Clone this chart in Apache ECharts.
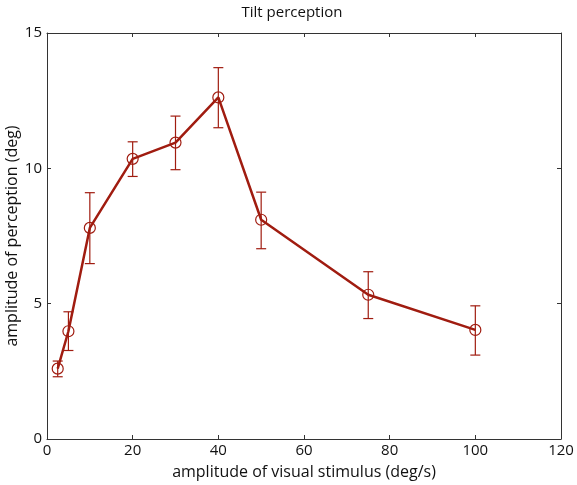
<!DOCTYPE html>
<html><head><meta charset="utf-8">
<script src="https://cdn.jsdelivr.net/npm/echarts@6/dist/echarts.min.js"></script>
<style>html,body{margin:0;padding:0;background:#fff}#c{width:577px;height:485px}</style>
</head><body><div id="c"></div>
<script>
const stimulus = [2.5, 5, 10, 20, 30, 40, 50, 75, 100];
const perception = [2.6, 3.98, 7.8, 10.35, 10.95, 12.62, 8.1, 5.33, 4.03];
const errLow = [2.3, 3.27, 6.48, 9.7, 9.95, 11.5, 7.03, 4.45, 3.1];
const errHigh = [2.88, 4.7, 9.1, 10.98, 11.93, 13.72, 9.12, 6.18, 4.92];
const xTicks = [0, 20, 40, 60, 80, 100, 120];
const yTicks = [0, 5, 10, 15];

const red = '#a01c10';
const font = 'Open Sans';
const chart = echarts.init(document.getElementById('c'), null, {renderer: 'canvas'});
const axisCommon = {
  axisLine: {show: true, onZero: false, lineStyle: {color: '#333', width: 1}},
  axisTick: {show: true, inside: true, length: 4, lineStyle: {color: '#333'}},
  splitLine: {show: false}
};
chart.setOption({
  animation: false,
  title: {text: 'Tilt perception', left: 287, top: 0, textAlign: 'center',
    textStyle: {fontFamily: font, fontSize: 15, fontWeight: 'normal', color: '#111'}},
  grid: {left: 47, right: 16, top: 33, bottom: 46, containLabel: false, outerBoundsMode: 'none'},
  xAxis: [
    Object.assign({type: 'value', min: 0, max: 120, interval: 20, position: 'bottom',
      name: 'amplitude of visual stimulus (deg/s)', nameLocation: 'middle', nameGap: 25,
      nameMoveOverlap: false,
      nameTextStyle: {fontFamily: font, fontSize: 16, color: '#111'},
      axisLabel: {fontFamily: font, fontSize: 15, color: '#111', margin: 4,
        formatter: v => xTicks.includes(v) ? String(v) : ''}}, axisCommon),
    Object.assign({type: 'value', min: 0, max: 120, interval: 20, position: 'top',
      axisLabel: {show: false}}, axisCommon)
  ],
  yAxis: [
    Object.assign({type: 'value', min: 0, max: 15, interval: 5, position: 'left',
      name: 'amplitude of perception (deg)', nameLocation: 'middle', nameGap: 27,
      nameMoveOverlap: false,
      nameTextStyle: {fontFamily: font, fontSize: 16, color: '#111'},
      axisLabel: {fontFamily: font, fontSize: 15, color: '#111', margin: 5,
        formatter: v => yTicks.includes(v) ? String(v) : ''}}, axisCommon),
    Object.assign({type: 'value', min: 0, max: 15, interval: 5, position: 'right',
      axisLabel: {show: false}}, axisCommon)
  ],
  series: [
    {
      type: 'line',
      data: stimulus.map((x, i) => [x, perception[i]]),
      lineStyle: {color: red, width: 2.5},
      itemStyle: {color: 'rgba(0,0,0,0)', borderColor: red, borderWidth: 1.2},
      symbol: 'circle', symbolSize: 11, z: 3
    },
    {
      type: 'custom',
      data: stimulus.map((x, i) => [x, errLow[i], errHigh[i]]),
      renderItem: function (params, api) {
        const x = api.value(0);
        const lo = api.coord([x, api.value(1)]);
        const hi = api.coord([x, api.value(2)]);
        const hw = 5;
        const st = {stroke: red, lineWidth: 1.2};
        return {type: 'group', children: [
          {type: 'line', shape: {x1: lo[0], y1: lo[1], x2: hi[0], y2: hi[1]}, style: st},
          {type: 'line', shape: {x1: lo[0] - hw, y1: lo[1], x2: lo[0] + hw, y2: lo[1]}, style: st},
          {type: 'line', shape: {x1: hi[0] - hw, y1: hi[1], x2: hi[0] + hw, y2: hi[1]}, style: st}
        ]};
      },
      z: 2
    }
  ]
});
</script></body></html>
